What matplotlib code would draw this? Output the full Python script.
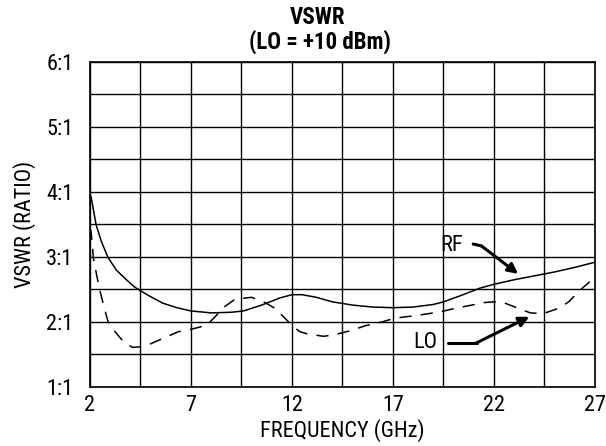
import numpy as np
import matplotlib
matplotlib.use('Agg')
from matplotlib import pyplot as plt

plt.rcParams['font.family'] = ['Roboto Condensed', 'DejaVu Sans']

# RF port VSWR (solid)
rf_freq = [2.0, 2.07, 2.3, 2.55, 2.88, 3.3, 3.8, 4.2, 4.5, 5.0, 5.6, 6.3, 7.0, 8.0, 9.0, 9.6,
           10.5, 11.4, 12.0, 12.5, 13.2, 14.0, 15.0, 16.0, 17.0, 18.0, 19.0, 19.5, 20.3,
           21.3, 22.0, 23.0, 24.0, 25.0, 26.0, 27.0]
rf_vswr = [3.97, 3.90, 3.50, 3.25, 3.0, 2.8, 2.65, 2.54, 2.48, 2.39, 2.29, 2.22, 2.17, 2.14, 2.15, 2.17,
           2.26, 2.37, 2.42, 2.42, 2.38, 2.31, 2.26, 2.23, 2.22, 2.23, 2.27, 2.31, 2.40,
           2.52, 2.58, 2.65, 2.71, 2.77, 2.84, 2.92]

# LO port VSWR (dashed)
lo_freq = [2.0, 2.05, 2.11, 2.16, 2.33, 2.5, 2.74, 2.9, 3.24, 3.65, 4.1, 4.6, 4.97, 5.63,
           6.37, 7.03, 7.78, 8.19, 8.68, 9.18, 10.0, 10.66, 11.16, 11.74, 12.05, 12.4, 12.73,
           13.55, 14.05, 14.95, 15.6, 16.44, 17.1, 17.9, 18.6, 19.4, 20.07, 20.9, 21.55, 22.0,
           22.38, 23.04, 23.8, 24.44, 25.2, 25.7, 26.26, 26.67, 26.9]
lo_vswr = [3.45, 3.39, 3.21, 3.0, 2.72, 2.47, 2.18, 2.0, 1.85, 1.70, 1.61, 1.62, 1.66, 1.75,
           1.85, 1.89, 1.95, 2.08, 2.24, 2.35, 2.38, 2.30, 2.21, 2.03, 1.93, 1.85, 1.82,
           1.78, 1.80, 1.87, 1.94, 2.0, 2.06, 2.09, 2.12, 2.16, 2.21, 2.26, 2.30, 2.31,
           2.31, 2.23, 2.14, 2.13, 2.21, 2.31, 2.49, 2.60, 2.66]

x_ticks = [2, 7, 12, 17, 22, 27]
y_ticks = [1, 2, 3, 4, 5, 6]
y_labels = ['1:1', '2:1', '3:1', '4:1', '5:1', '6:1']

fig = plt.figure(figsize=(6.06, 4.46), dpi=100)
ax = fig.add_axes([0.1485, 0.1323, 0.8333, 0.7287])

ax.plot(rf_freq, rf_vswr, color='black', lw=1.1)
ax.plot(lo_freq, lo_vswr, color='black', lw=1.1, dashes=(8, 6))

ax.set_xlim(2, 27)
ax.set_ylim(1, 6)
ax.set_xticks(np.arange(2, 27.1, 2.5), minor=True)
ax.set_yticks(np.arange(1, 6.01, 0.5), minor=True)
ax.set_xticks(x_ticks)
ax.set_yticks(y_ticks)
ax.set_yticklabels(y_labels)
ax.grid(True, which='both', color='black', lw=1.0)
ax.tick_params(which='both', length=0, labelsize=16)
ax.tick_params(axis='y', pad=12)
ax.tick_params(axis='x', pad=6)
for s in ax.spines.values():
    s.set_linewidth(1.2)

ax.set_xlabel('FREQUENCY (GHz)', fontsize=16, labelpad=2)
ax.set_ylabel('VSWR (RATIO)', fontsize=16, labelpad=7)

fig.text(318/606, 1 - 17/446, 'VSWR', ha='center', va='center', fontsize=16.5, fontweight='bold')
fig.text(320/606, 1 - 42/446, '(LO = +10 dBm)', ha='center', va='center', fontsize=16.5, fontweight='bold')

# labels with leader arrows
arrow = dict(arrowstyle='-|>', color='black', lw=2.2, mutation_scale=15, shrinkA=0, shrinkB=0)

ax.text(19.9, 3.18, 'RF', fontsize=16, ha='center', va='center')
ax.plot([20.97, 21.38], [3.20, 3.17], color='black', lw=2.2, solid_capstyle='round')
ax.annotate('', xy=(23.2, 2.74), xytext=(21.38, 3.17), arrowprops=arrow)

ax.text(18.6, 1.68, 'LO', fontsize=16, ha='center', va='center')
ax.plot([19.74, 21.14], [1.68, 1.68], color='black', lw=2.2, solid_capstyle='round')
ax.annotate('', xy=(23.75, 2.08), xytext=(21.14, 1.68), arrowprops=arrow)

fig.savefig('out.png', dpi=100)
